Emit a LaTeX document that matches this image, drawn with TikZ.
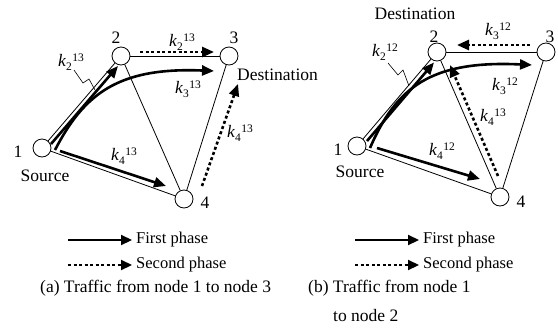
\documentclass[tikz,border=0pt]{standalone}
\usepackage{fontspec}
\setmainfont{Liberation Serif}
\usetikzlibrary{arrows.meta}
\newcommand{\kk}[2]{\textit{k}\raisebox{-4pt}{\fontsize{11.5}{12}\selectfont #1}\hspace{0.5pt}\raisebox{5pt}{\fontsize{11.5}{12}\selectfont #2}}
\tikzset{
  vtx/.style={circle,draw,line width=0.8pt,fill=white,minimum size=18pt,inner sep=0pt},
  edgeln/.style={line width=0.8pt},
  fp/.style={line width=2.6pt,-{Triangle[length=12pt,width=10pt]}},
  sp/.style={line width=2.6pt,dash pattern=on 3pt off 2.5pt,-{Triangle[length=12pt,width=10pt]}},
  lfp/.style={line width=2.2pt,-{Triangle[length=11pt,width=10pt]}},
  lsp/.style={line width=2.2pt,dash pattern=on 3pt off 2.5pt,-{Triangle[length=11pt,width=10pt]}},
  lbl/.style={font=\fontsize{17.5}{20}\selectfont,inner sep=0pt},
  leg/.style={font=\fontsize{16.5}{19}\selectfont,inner sep=0pt,anchor=west},
  captxt/.style={font=\fontsize{17.5}{20}\selectfont,inner sep=0pt,anchor=west},
  leadln/.style={line width=0.6pt},
}
\begin{document}
\begin{tikzpicture}[x=1pt,y=-1pt]
\useasboundingbox (0,0) rectangle (558,333);
% ---------- left diagram ----------
\node[vtx] (A1) at (42,148) {};
\node[vtx] (A2) at (121,56) {};
\node[vtx] (A3) at (229,56) {};
\node[vtx] (A4) at (184,199) {};
\draw[edgeln] (A1) -- (A2);
\draw[edgeln] (A2) -- (A3);
\draw[edgeln] (A2) -- (A4);
\draw[edgeln] (A3) -- (A4);
\draw[edgeln] (A1) -- (A4);
\coordinate (a12s) at (51,144);  \coordinate (a12e) at (118,66);
\coordinate (a13s) at (55,150);  \coordinate (a13e) at (214,71);
\coordinate (a23s) at (140,52);  \coordinate (a23e) at (214,52);
\coordinate (a14s) at (60,151);  \coordinate (a14e) at (166,186);
\coordinate (a43s) at (202,186); \coordinate (a43e) at (238,84);
\draw[fp] (a12s) -- (a12e);
\draw[fp] (a13s) .. controls (84,94) and (118,67) .. (a13e);
\draw[sp] (a23s) -- (a23e);
\draw[fp] (a14s) -- (a14e);
\draw[sp] (a43s) -- (a43e);
\node[lbl] (A1l) at (18,152) {1};
\node[lbl] (A1s) at (45,176) {Source};
\node[lbl] (A2l) at (116,38) {2};
\node[lbl] (A3l) at (234,38) {3};
\node[lbl,anchor=west] (A3d) at (237,75) {Destination};
\node[lbl] (A4l) at (205,203) {4};
\node[lbl] (ka1) at (71,62) {\kk{2}{13}};
\node[lbl] (ka2) at (182,42) {\kk{2}{13}};
\node[lbl] (ka3) at (188,89) {\kk{3}{13}};
\node[lbl] (ka4) at (240,133) {\kk{4}{13}};
\node[lbl] (ka5) at (124,156) {\kk{4}{13}};
\coordinate (la0) at (74,70);
\coordinate (la3) at (95,90);
\draw[leadln] (la0) -- (83,83) -- (89,79) -- (la3);
% ---------- right diagram ----------
\node[vtx] (B1) at (357,146) {};
\node[vtx] (B2) at (437,52) {};
\node[vtx] (B3) at (546,52) {};
\node[vtx] (B4) at (500,197) {};
\draw[edgeln] (B1) -- (B2);
\draw[edgeln] (B2) -- (B3);
\draw[edgeln] (B2) -- (B4);
\draw[edgeln] (B3) -- (B4);
\draw[edgeln] (B1) -- (B4);
\coordinate (b12s) at (367,141); \coordinate (b12e) at (434,62.5);
\coordinate (b13s) at (370,148); \coordinate (b13e) at (532,65);
\coordinate (b32s) at (530,45);  \coordinate (b32e) at (457,45);
\coordinate (b42s) at (498,176); \coordinate (b42e) at (450,65);
\coordinate (b14s) at (377,148); \coordinate (b14e) at (480,179);
\draw[fp] (b12s) -- (b12e);
\draw[fp] (b13s) .. controls (396,88) and (430,60) .. (b13e);
\draw[sp] (b32s) -- (b32e);
\draw[sp] (b42s) -- (b42e);
\draw[fp] (b14s) -- (b14e);
\node[lbl] (B1l) at (338,150) {1};
\node[lbl] (B1s) at (360,172) {Source};
\node[lbl] (B2d) at (415,14) {Destination};
\node[lbl] (B2l) at (434,37) {2};
\node[lbl] (B3l) at (550,37) {3};
\node[lbl] (B4l) at (521,202) {4};
\node[lbl] (kb1) at (385,52) {\kk{2}{12}};
\node[lbl] (kb2) at (498,31) {\kk{3}{12}};
\node[lbl] (kb3) at (505,86) {\kk{3}{12}};
\node[lbl] (kb4) at (493,117) {\kk{4}{13}};
\node[lbl] (kb5) at (442,151) {\kk{4}{12}};
\coordinate (lb0) at (388,63);
\coordinate (lb3) at (409,86);
\draw[leadln] (lb0) -- (398,75) -- (403,70) -- (lb3);
% ---------- legends ----------
\coordinate (g1s) at (68,240);  \coordinate (g1e) at (132,240);
\coordinate (g2s) at (68,265);  \coordinate (g2e) at (132,265);
\draw[lfp] (g1s) -- (g1e);
\draw[lsp] (g2s) -- (g2e);
\node[leg] (t1) at (136,240) {First phase};
\node[leg] (t2) at (136,265) {Second phase};
\coordinate (h1s) at (355,240); \coordinate (h1e) at (419,240);
\coordinate (h2s) at (355,265); \coordinate (h2e) at (419,265);
\draw[lfp] (h1s) -- (h1e);
\draw[lsp] (h2s) -- (h2e);
\node[leg] (u1) at (423,240) {First phase};
\node[leg] (u2) at (423,265) {Second phase};
% ---------- captions ----------
\node[captxt] (ca) at (40,288) {(a) Traffic from node 1 to node 3};
\node[captxt] (cb) at (308,288) {(b) Traffic from node 1};
\node[captxt] (cb2) at (333,316) {to node 2};
\end{tikzpicture}
\end{document}
